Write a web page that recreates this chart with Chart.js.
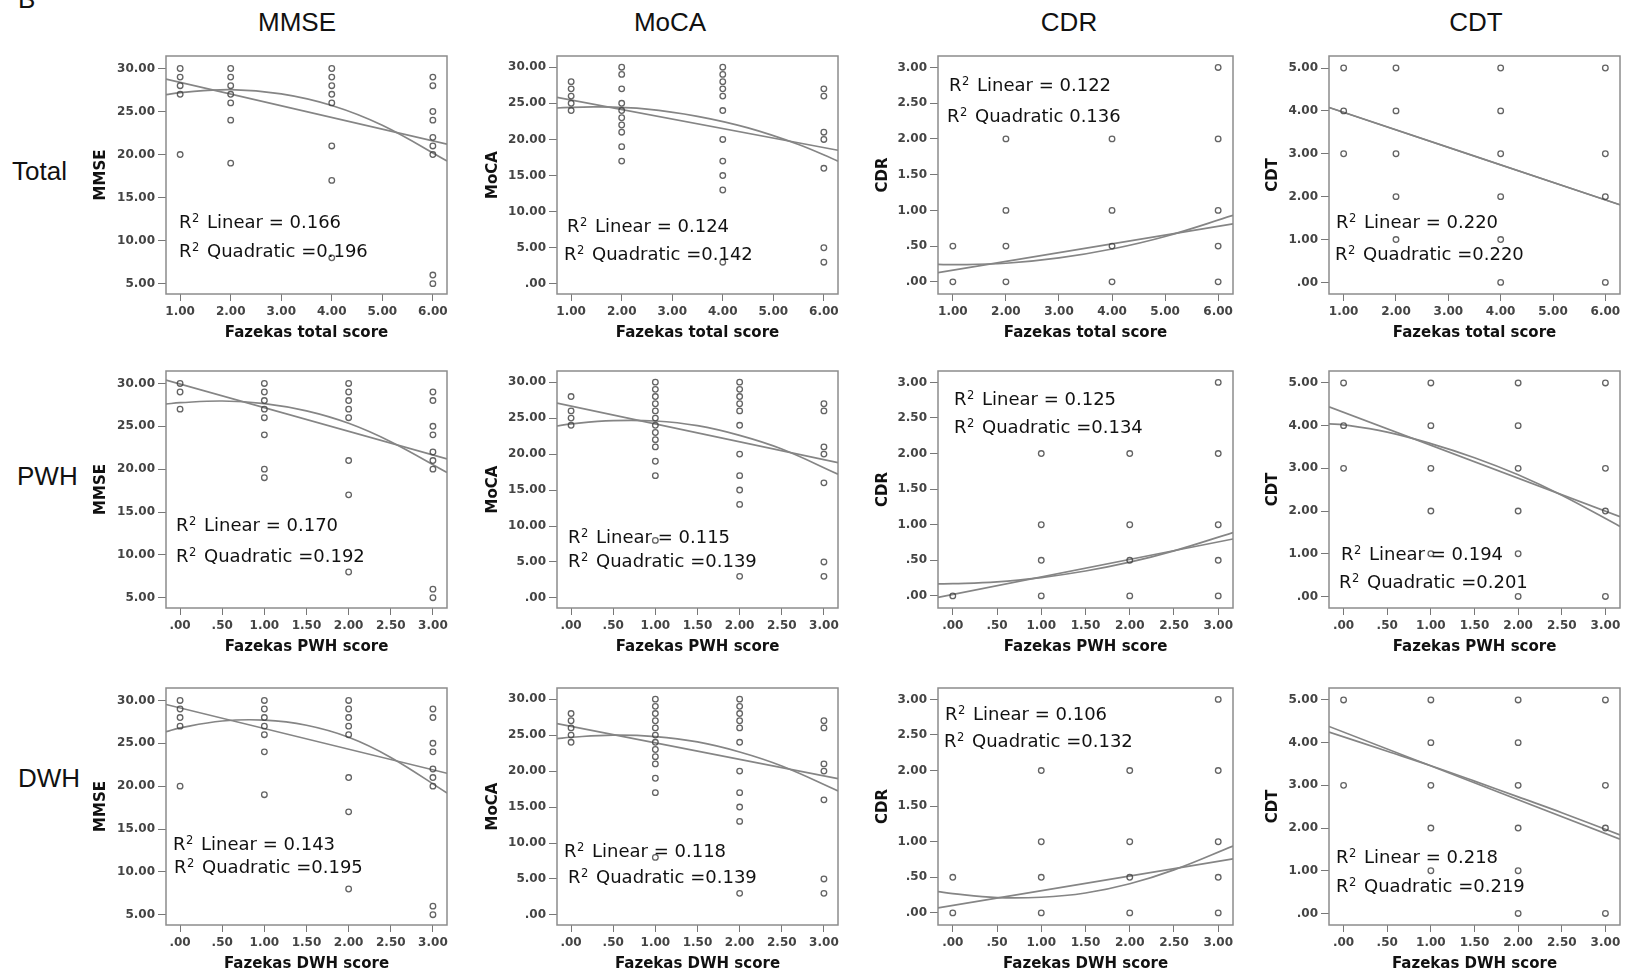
<!DOCTYPE html>
<html>
<head>
<meta charset="utf-8">
<script src="https://cdn.jsdelivr.net/npm/chart.js@4.4.1/dist/chart.umd.min.js"></script>
<style>
  body { margin: 0; background: #fff; }
  #page { position: relative; width: 1627px; height: 977px; overflow: hidden; background: #fff; }
  .lbl { position: absolute; font-family: "Liberation Sans", Arial, sans-serif; font-size: 26px; line-height: 26px; color: #111; white-space: nowrap; }
  canvas { position: absolute; }
</style>
</head>
<body>
<div id="page"></div>
<script>
  // ---- labels ----
  const outcomes = ["MMSE", "MoCA", "CDR", "CDT"];
  const predictors = ["Total", "PWH", "DWH"];
  const xTitles = ["Fazekas total score", "Fazekas PWH score", "Fazekas DWH score"];

  // ---- axes ----
  const totalTicks = [1, 2, 3, 4, 5, 6];
  const totalTickLabels = ["1.00", "2.00", "3.00", "4.00", "5.00", "6.00"];
  const subTicks = [0, 0.5, 1, 1.5, 2, 2.5, 3];
  const subTickLabels = [".00", ".50", "1.00", "1.50", "2.00", "2.50", "3.00"];
  const totalRange = [0.72, 6.28];
  const subRange = [-0.167, 3.167];

  const mmseTicks = [5, 10, 15, 20, 25, 30];
  const mmseTickLabels = ["5.00", "10.00", "15.00", "20.00", "25.00", "30.00"];
  const mocaTicks = [0, 5, 10, 15, 20, 25, 30];
  const mocaTickLabels = [".00", "5.00", "10.00", "15.00", "20.00", "25.00", "30.00"];
  const cdrTicks = [0, 0.5, 1, 1.5, 2, 2.5, 3];
  const cdrTickLabels = [".00", ".50", "1.00", "1.50", "2.00", "2.50", "3.00"];
  const cdtTicks = [0, 1, 2, 3, 4, 5];
  const cdtTickLabels = [".00", "1.00", "2.00", "3.00", "4.00", "5.00"];
  const mmseRange = [3.8, 31.45];
  const mocaRange = [-1.4, 31.55];
  const cdrRange = [-0.17, 3.16];
  const cdtRange = [-0.27, 5.28];

  // ---- points: [x, [y values]] ----
  const mmseTotalPts = [[1, [30, 29, 28, 27, 20]], [2, [30, 29, 28, 27, 26, 24, 19]], [4, [30, 29, 28, 27, 26, 21, 17, 8]], [6, [29, 28, 25, 24, 22, 21, 20, 6, 5]]];
  const mocaTotalPts = [[1, [28, 27, 26, 25, 24]], [2, [30, 29, 27, 25, 24, 23, 22, 21, 19, 17]], [4, [30, 29, 28, 27, 26, 24, 20, 17, 15, 13, 3]], [6, [27, 26, 21, 20, 16, 5, 3]]];
  const cdrTotalPts = [[1, [0.5, 0]], [2, [2, 1, 0.5, 0]], [4, [2, 1, 0.5, 0]], [6, [3, 2, 1, 0.5, 0]]];
  const cdtTotalPts = [[1, [5, 4, 3]], [2, [5, 4, 3, 2, 1]], [4, [5, 4, 3, 2, 1, 0]], [6, [5, 3, 2, 0]]];

  const mmsePwhPts = [[0, [30, 29, 27]], [1, [30, 29, 28, 27, 26, 24, 20, 19]], [2, [30, 29, 28, 27, 26, 21, 17, 8]], [3, [29, 28, 25, 24, 22, 21, 20, 6, 5]]];
  const mocaPwhPts = [[0, [28, 26, 25, 24]], [1, [30, 29, 28, 27, 26, 25, 24, 23, 22, 21, 19, 17, 8]], [2, [30, 29, 28, 27, 26, 24, 20, 17, 15, 13, 3]], [3, [27, 26, 21, 20, 16, 5, 3]]];
  const cdrPwhPts = [[0, [0]], [1, [2, 1, 0.5, 0]], [2, [2, 1, 0.5, 0]], [3, [3, 2, 1, 0.5, 0]]];
  const cdtPwhPts = [[0, [5, 4, 3]], [1, [5, 4, 3, 2, 1]], [2, [5, 4, 3, 2, 1, 0]], [3, [5, 3, 2, 0]]];

  const mmseDwhPts = [[0, [30, 29, 28, 27, 20]], [1, [30, 29, 28, 27, 26, 24, 19]], [2, [30, 29, 28, 27, 26, 21, 17, 8]], [3, [29, 28, 25, 24, 22, 21, 20, 6, 5]]];
  const mocaDwhPts = [[0, [28, 27, 26, 25, 24]], [1, [30, 29, 28, 27, 26, 25, 24, 23, 22, 21, 19, 17, 8]], [2, [30, 29, 28, 27, 26, 24, 20, 17, 15, 13, 3]], [3, [27, 26, 21, 20, 16, 5, 3]]];
  const cdrDwhPts = [[0, [0.5, 0]], [1, [2, 1, 0.5, 0]], [2, [2, 1, 0.5, 0]], [3, [3, 2, 1, 0.5, 0]]];
  const cdtDwhPts = [[0, [5, 3]], [1, [5, 4, 3, 2, 1]], [2, [5, 4, 3, 2, 1, 0]], [3, [5, 3, 2, 0]]];

  // ---- fit lines: [x, y] ----
  const mmseTotalLin = [[0.72, 28.76], [6.28, 21.2]];
  const mmseTotalQuad = [[0.72, 26.95], [1, 27.2], [2, 27.55], [3, 27.05], [4, 25.7], [5, 23.4], [6.28, 19.25]];
  const mocaTotalLin = [[0.72, 25.83], [6.28, 18.5]];
  const mocaTotalQuad = [[0.72, 24.35], [1.5, 24.5], [2.5, 24.2], [3.5, 23.2], [4.5, 21.6], [5.5, 19.3], [6.28, 17.0]];
  const cdrTotalLin = [[0.72, 0.13], [6.28, 0.81]];
  const cdrTotalQuad = [[0.72, 0.245], [1, 0.24], [2, 0.26], [3, 0.335], [4, 0.46], [5, 0.635], [6.28, 0.93]];
  const cdtTotalLin = [[0.72, 4.08], [6.28, 1.81]];
  const cdtTotalQuad = [[0.72, 4.08], [6.28, 1.81]];

  const mmsePwhLin = [[-0.167, 30.39], [3.167, 21.2]];
  const mmsePwhQuad = [[-0.167, 27.6], [0, 27.75], [0.5, 27.95], [1, 27.65], [1.5, 26.8], [2, 25.35], [2.5, 23.2], [3.167, 19.6]];
  const mocaPwhLin = [[-0.167, 27.1], [3.167, 18.8]];
  const mocaPwhQuad = [[-0.167, 23.9], [0, 24.2], [0.5, 24.65], [1, 24.6], [1.5, 23.95], [2, 22.6], [2.5, 20.7], [3.167, 17.2]];
  const cdrPwhLin = [[-0.167, -0.02], [3.167, 0.8]];
  const cdrPwhQuad = [[-0.167, 0.17], [0, 0.172], [0.5, 0.197], [1, 0.258], [1.5, 0.35], [2, 0.474], [2.5, 0.633], [3.167, 0.89]];
  const cdtPwhLin = [[-0.167, 4.44], [3.167, 1.87]];
  const cdtPwhQuad = [[-0.167, 4.04], [0, 4.02], [0.5, 3.85], [1, 3.58], [1.5, 3.25], [2, 2.85], [2.5, 2.37], [3.167, 1.64]];

  const mmseDwhLin = [[-0.167, 29.53], [3.167, 21.5]];
  const mmseDwhQuad = [[-0.167, 26.35], [0, 26.8], [0.5, 27.6], [1, 27.7], [1.5, 27.1], [2, 25.7], [2.5, 23.35], [3.167, 19.2]];
  const mocaDwhLin = [[-0.167, 26.6], [3.167, 18.95]];
  const mocaDwhQuad = [[-0.167, 24.5], [0, 24.7], [0.5, 25.0], [1, 24.8], [1.5, 24.05], [2, 22.65], [2.5, 20.7], [3.167, 17.24]];
  const cdrDwhLin = [[-0.167, 0.07], [3.167, 0.76]];
  const cdrDwhQuad = [[-0.167, 0.3], [0, 0.27], [0.5, 0.215], [1, 0.22], [1.5, 0.28], [2, 0.41], [2.5, 0.605], [3.167, 0.94]];
  const cdtDwhLin = [[-0.167, 4.38], [3.167, 1.74]];
  const cdtDwhQuad = [[-0.167, 4.25], [0.5, 3.8], [1, 3.46], [1.5, 3.1], [2, 2.73], [2.5, 2.36], [3.167, 1.84]];

  // ---- R squared values ----
  const r2Linear = [[0.166, 0.124, 0.122, 0.220], [0.170, 0.115, 0.125, 0.194], [0.143, 0.118, 0.106, 0.218]];
  const r2Quadratic = [[0.196, 0.142, 0.136, 0.220], [0.192, 0.139, 0.134, 0.201], [0.195, 0.139, 0.132, 0.219]];
  const quadSep = [["=", "=", "", "="], ["=", "=", "=", "="], ["=", "=", "=", "="]];

  // ---- grid layout (page pixels) ----
  const colLeft = [166, 557, 938, 1329];
  const colRight = [447, 838, 1233, 1620];
  const rowTop = [56, 371, 688];
  const rowBottom = [294, 608, 925];
  const yAxisWidth = [74, 73, 64, 65];
  const titleCenters = [297, 670, 1069, 1476];
  const rowLabelPos = [[12, 180], [17, 485], [18, 787]];
  // baseline-left of the two R2 lines
  const annotPos = [
    [[[179, 228], [179, 257]], [[567, 232], [564, 260]], [[949, 91], [947, 122]], [[1336, 228], [1335, 260]]],
    [[[176, 531], [176, 562]], [[568, 543], [568, 567]], [[954, 405], [954, 433]], [[1341, 560], [1339, 588]]],
    [[[173, 850], [174, 873]], [[564, 857], [568, 883]], [[945, 720], [944, 747]], [[1336, 863], [1336, 892]]],
  ];

  const pointSets = [
    [mmseTotalPts, mocaTotalPts, cdrTotalPts, cdtTotalPts],
    [mmsePwhPts, mocaPwhPts, cdrPwhPts, cdtPwhPts],
    [mmseDwhPts, mocaDwhPts, cdrDwhPts, cdtDwhPts],
  ];
  const linearFits = [
    [mmseTotalLin, mocaTotalLin, cdrTotalLin, cdtTotalLin],
    [mmsePwhLin, mocaPwhLin, cdrPwhLin, cdtPwhLin],
    [mmseDwhLin, mocaDwhLin, cdrDwhLin, cdtDwhLin],
  ];
  const quadFits = [
    [mmseTotalQuad, mocaTotalQuad, cdrTotalQuad, cdtTotalQuad],
    [mmsePwhQuad, mocaPwhQuad, cdrPwhQuad, cdtPwhQuad],
    [mmseDwhQuad, mocaDwhQuad, cdrDwhQuad, cdtDwhQuad],
  ];
  const yAxes = [
    { ticks: mmseTicks, labels: mmseTickLabels, range: mmseRange },
    { ticks: mocaTicks, labels: mocaTickLabels, range: mocaRange },
    { ticks: cdrTicks, labels: cdrTickLabels, range: cdrRange },
    { ticks: cdtTicks, labels: cdtTickLabels, range: cdtRange },
  ];

  const page = document.getElementById("page");
  const TICK_FONT = { family: "'DejaVu Sans', Verdana, sans-serif", size: 12, weight: "bold" };
  const LINE_COLOR = "#858585";

  function addLabel(text, left, baseline, center) {
    const div = document.createElement("div");
    div.className = "lbl";
    div.textContent = text;
    div.style.left = left + "px";
    div.style.top = baseline - 22 + "px";
    if (center) div.style.transform = "translateX(-50%)";
    page.appendChild(div);
  }

  const framePlugin = {
    id: "frame",
    beforeDatasetsDraw(chart) {
      const { ctx, chartArea: a } = chart;
      ctx.save();
      ctx.strokeStyle = "#8c8c8c";
      ctx.lineWidth = 1.5;
      ctx.strokeRect(a.left, a.top, a.right - a.left, a.bottom - a.top);
      ctx.restore();
    },
  };

  function r2Plugin(lines, ox, oy) {
    return {
      id: "r2",
      afterDatasetsDraw(chart) {
        const ctx = chart.ctx;
        ctx.save();
        ctx.fillStyle = "#111";
        ctx.textBaseline = "alphabetic";
        lines.forEach(({ text, pos }) => {
          const x = pos[0] - ox;
          const y = pos[1] - oy;
          ctx.font = "18px 'DejaVu Sans', Verdana, sans-serif";
          ctx.fillText("R", x, y);
          const w1 = ctx.measureText("R").width;
          ctx.font = "11.5px 'DejaVu Sans', Verdana, sans-serif";
          ctx.fillText("2", x + w1 + 0.5, y - 6.5);
          const w2 = ctx.measureText("2").width;
          ctx.font = "18px 'DejaVu Sans', Verdana, sans-serif";
          ctx.fillText(" " + text, x + w1 + w2 + 2.5, y);
        });
        ctx.restore();
      },
    };
  }

  function toXY(pairs) {
    return pairs.map(([x, y]) => ({ x, y }));
  }

  function makePanel(r, c) {
    const padT = 6, padR = 6, xh = 48;
    const yw = yAxisWidth[c];
    const plotW = colRight[c] - colLeft[c];
    const plotH = rowBottom[r] - rowTop[r];
    const W = yw + plotW + padR;
    const H = padT + plotH + xh;
    const left = colLeft[c] - yw;
    const top = rowTop[r] - padT;

    const canvas = document.createElement("canvas");
    canvas.width = W;
    canvas.height = H;
    canvas.style.left = left + "px";
    canvas.style.top = top + "px";
    canvas.style.width = W + "px";
    canvas.style.height = H + "px";
    page.appendChild(canvas);

    const xt = r === 0 ? totalTicks : subTicks;
    const xl = r === 0 ? totalTickLabels : subTickLabels;
    const xr = r === 0 ? totalRange : subRange;
    const ya = yAxes[c];

    const points = pointSets[r][c].flatMap(([x, ys]) => ys.map((y) => ({ x, y })));
    const annot = [
      { text: "Linear = " + r2Linear[r][c].toFixed(3), pos: annotPos[r][c][0] },
      { text: "Quadratic " + quadSep[r][c] + r2Quadratic[r][c].toFixed(3), pos: annotPos[r][c][1] },
    ];

    new Chart(canvas, {
      type: "scatter",
      data: {
        datasets: [
          {
            data: points,
            pointStyle: "circle",
            pointRadius: 2.8,
            borderWidth: 1.3,
            borderColor: "rgba(60,60,60,0.8)",
            backgroundColor: "rgba(0,0,0,0)",
          },
          {
            data: toXY(linearFits[r][c]),
            showLine: true,
            pointRadius: 0,
            borderColor: LINE_COLOR,
            borderWidth: 1.7,
            tension: 0,
          },
          {
            data: toXY(quadFits[r][c]),
            showLine: true,
            pointRadius: 0,
            borderColor: LINE_COLOR,
            borderWidth: 1.7,
            tension: 0.4,
          },
        ],
      },
      options: {
        responsive: false,
        animation: false,
        devicePixelRatio: 1,
        layout: { padding: { top: padT, right: padR, left: 0, bottom: 0 } },
        plugins: { legend: { display: false }, tooltip: { enabled: false } },
        scales: {
          x: {
            type: "linear",
            min: xr[0],
            max: xr[1],
            afterBuildTicks: (s) => { s.ticks = xt.map((v) => ({ value: v })); },
            afterFit: (s) => { s.height = xh; s.paddingLeft = 0; s.paddingRight = 0; },
            grid: { drawOnChartArea: false, drawTicks: true, tickLength: 7, color: "#777" },
            border: { display: false },
            ticks: {
              padding: 4,
              color: "#444",
              font: TICK_FONT,
              maxRotation: 0,
              autoSkip: false,
              callback: (v) => xl[xt.indexOf(v)],
            },
            title: {
              display: true,
              text: xTitles[r],
              color: "#111",
              padding: 0,
              font: { family: "'DejaVu Sans', Verdana, sans-serif", size: 15, weight: "bold" },
            },
          },
          y: {
            type: "linear",
            min: ya.range[0],
            max: ya.range[1],
            afterBuildTicks: (s) => { s.ticks = ya.ticks.map((v) => ({ value: v })); },
            afterFit: (s) => { s.width = yw; s.paddingTop = 0; s.paddingBottom = 0; },
            grid: { drawOnChartArea: false, drawTicks: true, tickLength: 8, color: "#777" },
            border: { display: false },
            ticks: {
              padding: 3,
              color: "#444",
              font: TICK_FONT,
              autoSkip: false,
              callback: (v) => ya.labels[ya.ticks.indexOf(v)],
            },
            title: {
              display: true,
              text: outcomes[c],
              color: "#111",
              padding: 0,
              font: { family: "'DejaVu Sans', Verdana, sans-serif", size: 15, weight: "bold" },
            },
          },
        },
      },
      plugins: [framePlugin, r2Plugin(annot, left, top)],
    });
  }

  addLabel("B", 18, 8, false);
  outcomes.forEach((name, c) => addLabel(name, titleCenters[c], 31, true));
  predictors.forEach((name, r) => addLabel(name, rowLabelPos[r][0], rowLabelPos[r][1], false));

  for (let r = 0; r < predictors.length; r++) {
    for (let c = 0; c < outcomes.length; c++) makePanel(r, c);
  }
</script>
</body>
</html>
